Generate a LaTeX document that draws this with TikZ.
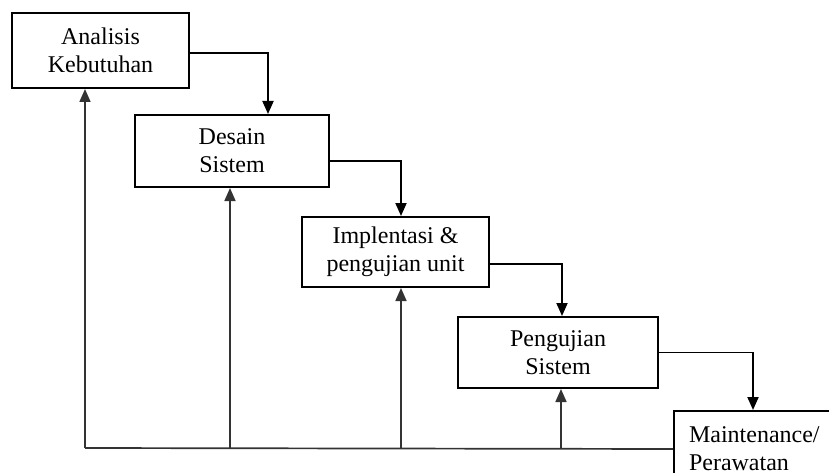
\documentclass[tikz,border=0pt]{standalone}
\usepackage{fontspec}
\setmainfont{Liberation Serif}
\usetikzlibrary{arrows.meta}
\begin{document}
\begin{tikzpicture}[x=1pt,y=-1pt,
  box/.style={draw=black,line width=2pt,align=center,inner sep=0pt,
    font=\fontsize{24}{28}\selectfont},
  arr/.style={line width=1.9pt,-{Triangle[width=11pt,length=13pt]}},
  fb/.style={line width=1.7pt,draw=black!80},
  fbarr/.style={fb,-{Triangle[width=11pt,length=13pt]}}]
\useasboundingbox (0,0) rectangle (829,473);
\clip (0,0) rectangle (829,473);
\node[box,minimum width=177pt,minimum height=75pt] (b1) at (100.5,50.5) {Analisis\\Kebutuhan};
\node[box,minimum width=194pt,minimum height=72pt] (b2) at (232,151) {Desain\\Sistem};
\node[box,minimum width=187pt,minimum height=70pt] (b3) at (395.5,252) {Implentasi \&\\pengujian unit};
\node[box,minimum width=200pt,minimum height=71pt] (b4) at (558,352.5) {Pengujian\\Sistem};
\node[box,anchor=north west,text width=160pt,inner xsep=15pt,minimum height=76pt,align=left] (b5) at (673,410) {Maintenance/\\Perawatan};
\draw[arr] ([yshift=-2.5pt]b1.east) -| ([xshift=36pt]b2.north);
\draw[arr] ([yshift=-10pt]b2.east) -| ([xshift=5.5pt]b3.north);
\draw[arr] ([yshift=-12pt]b3.east) -| ([xshift=4pt]b4.north);
\draw[arr] (b4.east) -| ([xshift=80pt]b5.north west);
\coordinate (c0) at (85,448);
\coordinate (c1) at (230,448);
\coordinate (c2) at (401,448);
\coordinate (c3) at (561,448);
\draw[fb] (b5.west) -- (c0);
\draw[fbarr] (c0) -- (c0 |- b1.south);
\draw[fbarr] (c1) -- (c1 |- b2.south);
\draw[fbarr] (c2) -- (c2 |- b3.south);
\draw[fbarr] (c3) -- (c3 |- b4.south);
\end{tikzpicture}
\end{document}
